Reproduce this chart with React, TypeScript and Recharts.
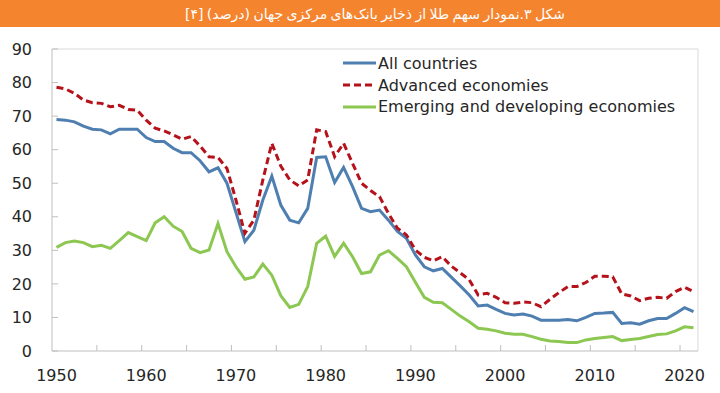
import {
  LineChart, Line, XAxis, YAxis, ReferenceLine, Legend,
} from 'recharts';

const years = [
  1950, 1951, 1952, 1953, 1954, 1955, 1956, 1957, 1958, 1959,
  1960, 1961, 1962, 1963, 1964, 1965, 1966, 1967, 1968, 1969,
  1970, 1971, 1972, 1973, 1974, 1975, 1976, 1977, 1978, 1979,
  1980, 1981, 1982, 1983, 1984, 1985, 1986, 1987, 1988, 1989,
  1990, 1991, 1992, 1993, 1994, 1995, 1996, 1997, 1998, 1999,
  2000, 2001, 2002, 2003, 2004, 2005, 2006, 2007, 2008, 2009,
  2010, 2011, 2012, 2013, 2014, 2015, 2016, 2017, 2018, 2019,
  2020, 2021,
];

const allCountries = [
  69.0, 68.8, 68.3, 67.0, 66.1, 65.9, 64.7, 66.1, 66.1, 66.1,
  63.6, 62.4, 62.4, 60.4, 59.1, 59.1, 56.7, 53.4, 54.6, 50.0,
  41.3, 32.6, 36.0, 45.0, 52.1, 43.5, 39.0, 38.2, 42.5, 57.7,
  57.9, 50.2, 54.7, 49.0, 42.5, 41.5, 42.0, 39.0, 35.6, 33.6,
  28.6, 25.1, 23.9, 24.6, 22.0, 19.4, 16.7, 13.4, 13.7, 12.4,
  11.2, 10.7, 11.0, 10.4, 9.2, 9.2, 9.2, 9.4, 9.0, 10.0,
  11.2, 11.3, 11.5, 8.2, 8.4, 8.0, 9.0, 9.7, 9.7, 11.2,
  12.9, 11.7,
];

const advanced = [
  78.6, 78.1, 76.8, 74.8, 74.0, 73.8, 72.8, 73.2, 72.0, 71.8,
  68.8, 66.4, 65.6, 64.4, 63.1, 63.9, 61.1, 57.9, 57.7, 54.4,
  45.0, 35.1, 39.0, 51.0, 61.9, 55.1, 51.0, 49.2, 51.0, 65.9,
  65.4, 57.9, 61.9, 55.9, 50.0, 47.8, 46.0, 41.0, 36.6, 34.6,
  30.1, 27.9, 26.9, 28.1, 25.3, 23.3, 21.2, 16.7, 17.2, 16.0,
  14.4, 14.2, 14.6, 14.4, 13.2, 15.4, 17.4, 19.2, 19.2, 20.4,
  22.3, 22.3, 22.1, 17.0, 16.4, 15.0, 15.7, 16.0, 15.7, 17.7,
  19.0, 17.7,
];

const emerging = [
  30.9, 32.3, 32.8, 32.3, 31.1, 31.5, 30.6, 32.9, 35.3, 34.1,
  32.9, 38.2, 40.0, 37.2, 35.6, 30.6, 29.3, 30.1, 38.0, 29.6,
  25.1, 21.4, 22.1, 25.9, 22.6, 16.5, 13.0, 13.9, 19.2, 32.1,
  34.2, 28.2, 32.1, 28.1, 23.1, 23.6, 28.6, 29.9, 27.6, 25.1,
  20.5, 16.0, 14.5, 14.4, 12.4, 10.4, 8.7, 6.8, 6.5, 6.0,
  5.3, 5.0, 5.0, 4.3, 3.5, 3.0, 2.8, 2.5, 2.5, 3.3,
  3.7, 4.0, 4.3, 3.1, 3.4, 3.7, 4.3, 4.9, 5.1, 6.0,
  7.2, 6.9,
];

// labelled years sit on the category centre, the small marks on the boundaries
const yearLabels = [1950, 1960, 1970, 1980, 1990, 2000, 2010, 2020];
const yearMarks = [1954.5, 1959.5, 1964.5, 1969.5, 1974.5, 1979.5, 1984.5, 1989.5, 1994.5, 1999.5, 2004.5, 2009.5, 2014.5, 2019.5];
const yTicks = [0, 10, 20, 30, 40, 50, 60, 70, 80, 90];

const series = [
  { key: 'all', name: 'All countries', color: '#4f7fb0', dash: undefined },
  { key: 'adv', name: 'Advanced economies', color: '#b5121b', dash: '7 4' },
  { key: 'emg', name: 'Emerging and developing economies', color: '#8cc751', dash: undefined },
];

const TITLE = 'شکل ۳.نمودار سهم طلا از ذخایر بانک‌های مرکزی جهان (درصد) [۴]';

const data = years.map((year, i) => ({
  year,
  all: allCountries[i],
  adv: advanced[i],
  emg: emerging[i],
}));

const FONT = '"DejaVu Sans", Verdana, sans-serif';
const AXIS = '#bfbfbf';

function YearTick({ x, y, payload }: { x?: number; y?: number; payload?: { value: number } }) {
  const v = payload?.value ?? 0;
  if (v % 1 !== 0) {
    return <line x1={x} x2={x} y1={y} y2={(y ?? 0) - 6} stroke={AXIS} strokeWidth={1} />;
  }
  return (
    <text x={x} y={(y ?? 0) + 30} textAnchor="middle" fill="#262626" fontSize={16} fontFamily={FONT}>
      {v}
    </text>
  );
}

function SeriesLegend() {
  return (
    <div style={{ fontFamily: FONT, fontSize: 16, color: '#262626' }}>
      {series.map(s => (
        <div key={s.key} style={{ display: 'flex', alignItems: 'center', height: 21.7 }}>
          <svg width={33} height={6} style={{ marginRight: 2 }}>
            <line x1={0} x2={33} y1={3} y2={3} stroke={s.color} strokeWidth={3} strokeDasharray={s.dash} />
          </svg>
          <span>{s.name}</span>
        </div>
      ))}
    </div>
  );
}

export default function App() {
  return (
    <div style={{ position: 'absolute', left: 0, top: 0, width: 720, height: 393, background: '#fff' }}>
      <LineChart width={720} height={393} data={data}
        margin={{ top: 49, right: 22, left: 0, bottom: 0 }} style={{ fontFamily: FONT }}>
        <XAxis dataKey="year" type="number" domain={[1949.5, 2021.5]}
          ticks={[...yearLabels, ...yearMarks]} interval={0}
          tickLine={false} tickSize={0} tickMargin={0} height={42}
          axisLine={{ stroke: AXIS }} tick={<YearTick />} />
        <YAxis type="number" domain={[0, 90]} ticks={yTicks} interval={0} width={52}
          tickSize={-6} tickMargin={26} tickLine={{ stroke: AXIS }} axisLine={{ stroke: AXIS }}
          tick={{ fill: '#262626', fontSize: 16, fontFamily: FONT }} />

        {/* plot frame, top and right */}
        <ReferenceLine y={90} stroke="#d9d9d9" strokeWidth={1} />
        <ReferenceLine x={2021.5} stroke="#d9d9d9" strokeWidth={1} />

        <Legend layout="vertical" align="center" verticalAlign="middle"
          wrapperStyle={{ left: 343, top: 52.5, width: 375 }} content={<SeriesLegend />} />

        {series.map(s => (
          <Line key={s.key} dataKey={s.key} name={s.name} type="linear" stroke={s.color}
            strokeWidth={3} strokeDasharray={s.dash} dot={false} activeDot={false}
            isAnimationActive={false} />
        ))}
      </LineChart>

      <div dir="rtl" style={{
        position: 'absolute', left: 0, top: 0, width: 720, height: 27,
        background: '#f5842f', color: '#fff', display: 'flex', alignItems: 'center',
        justifyContent: 'center', paddingLeft: 30, boxSizing: 'border-box',
        fontFamily: FONT, fontWeight: 'normal', fontSize: 14, wordSpacing: -1,
      }}>
        {TITLE}
      </div>
    </div>
  );
}
